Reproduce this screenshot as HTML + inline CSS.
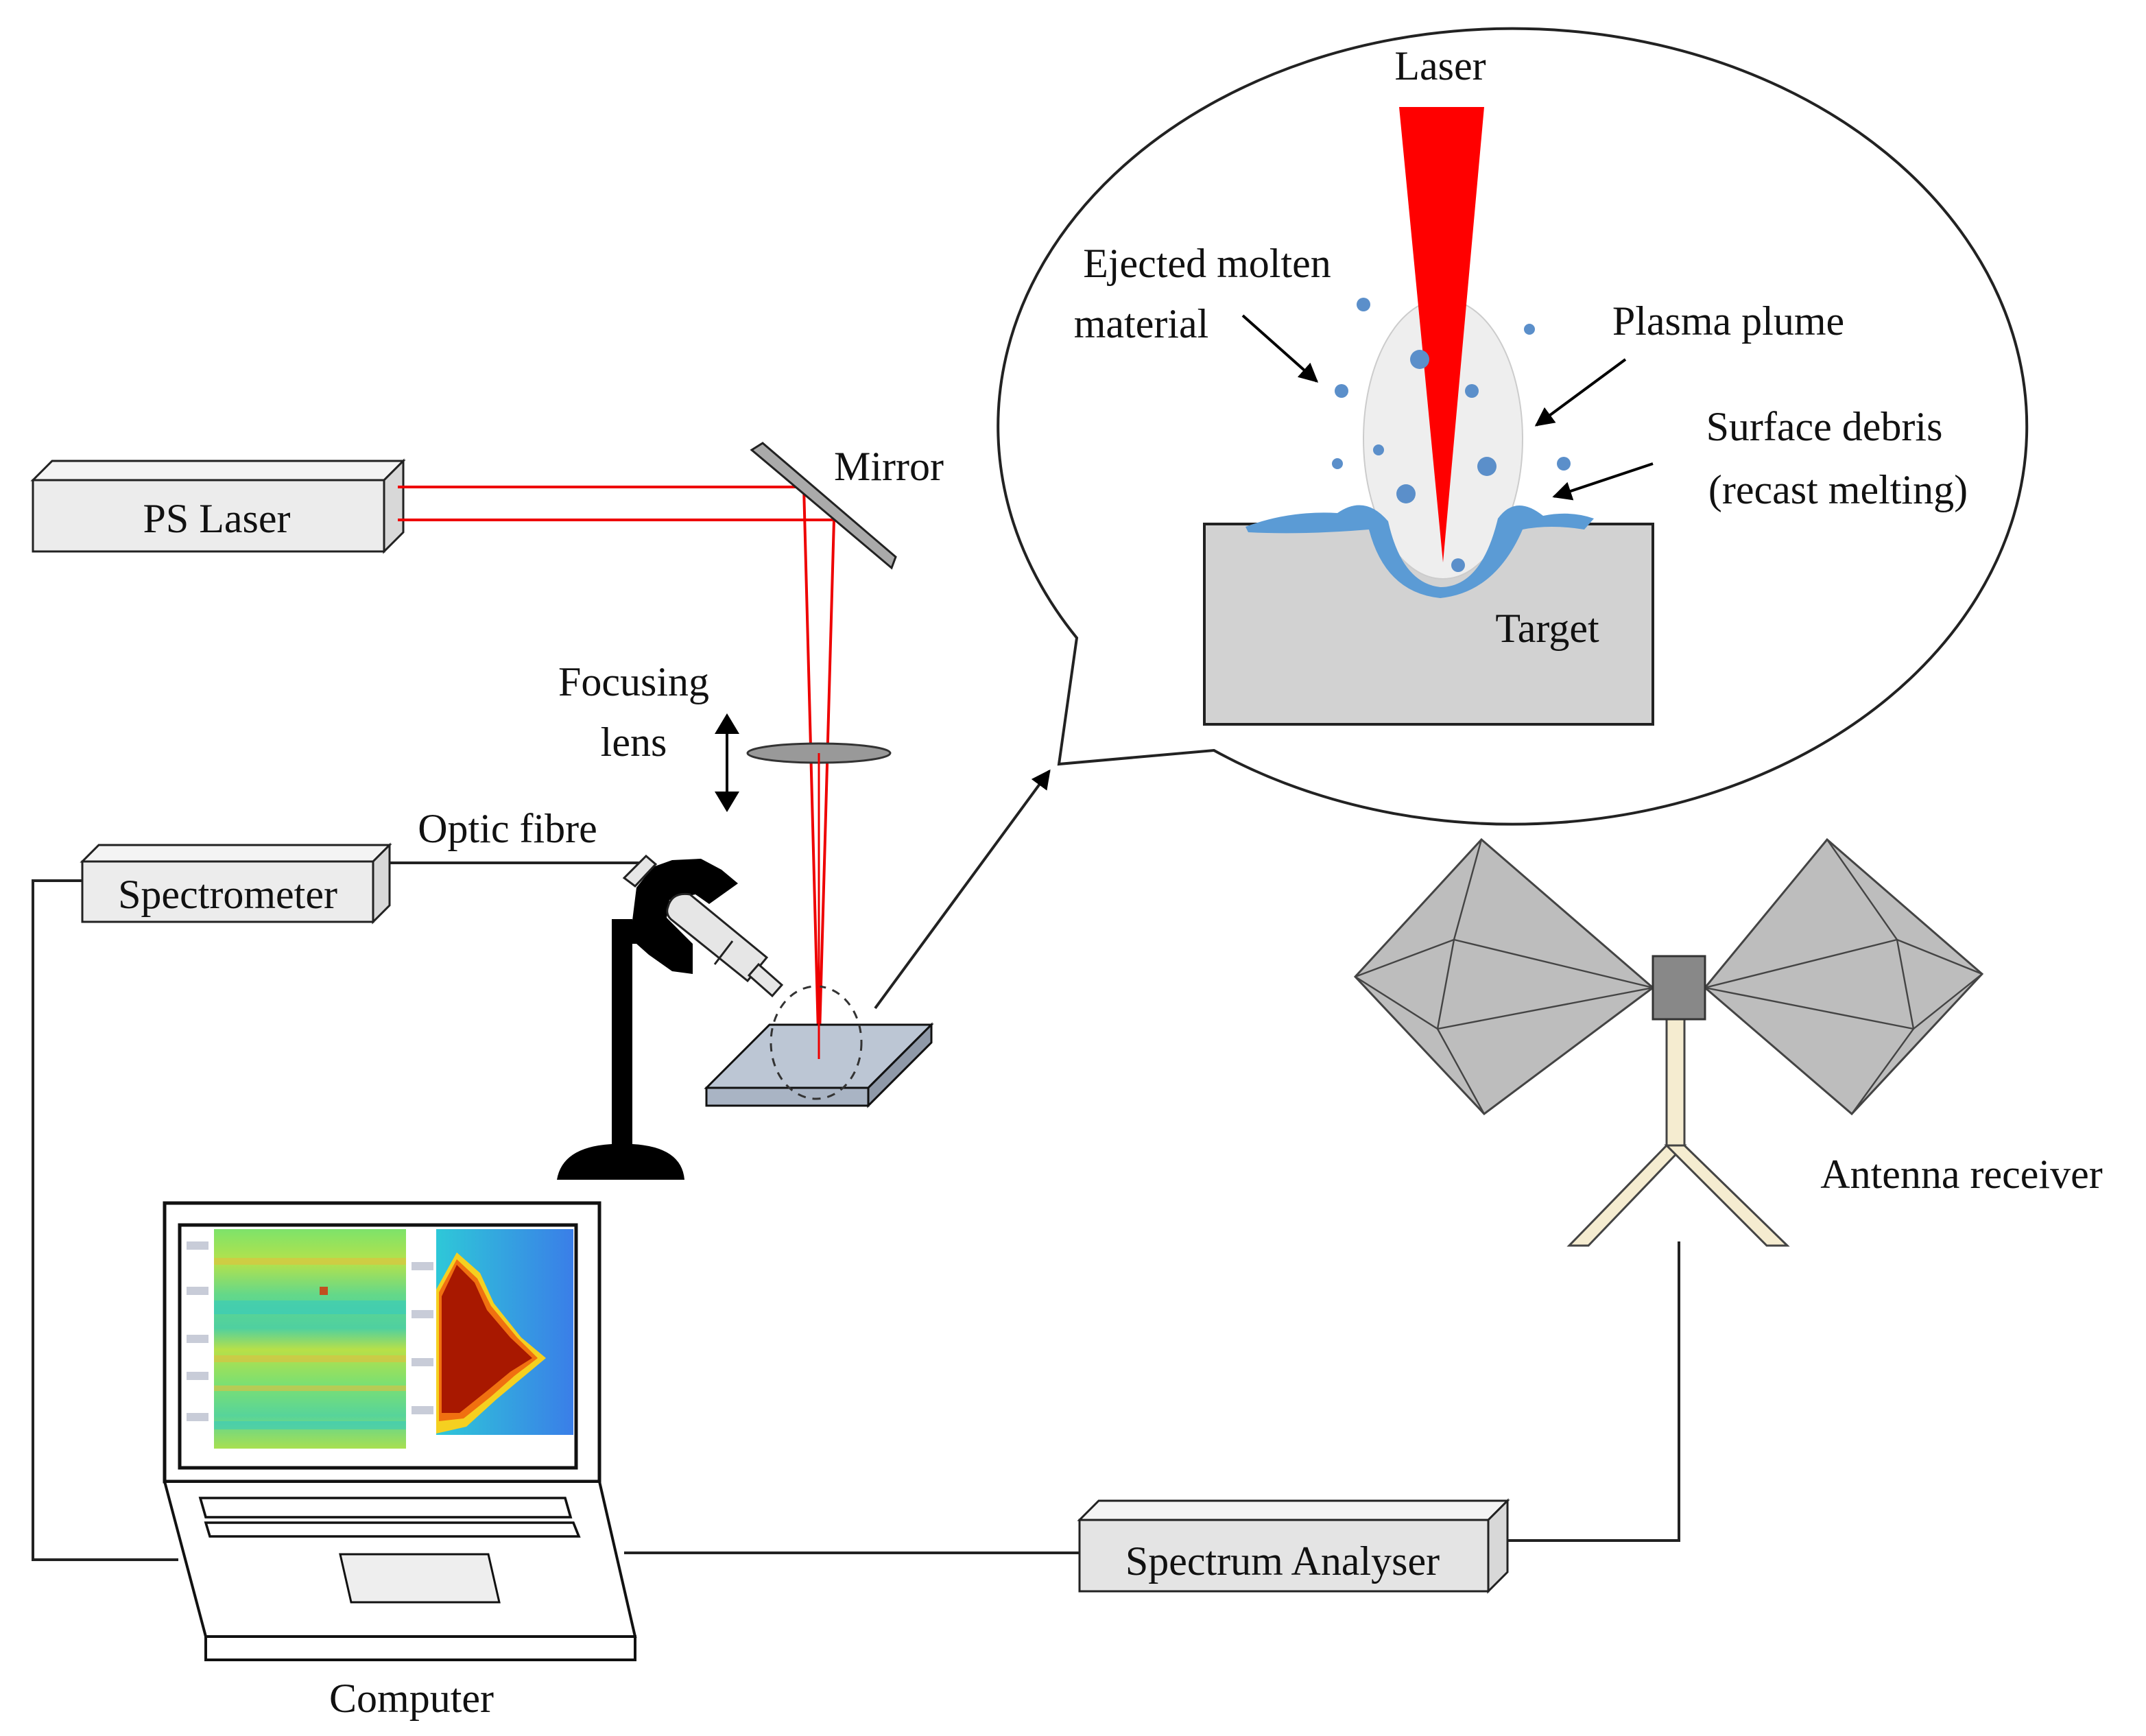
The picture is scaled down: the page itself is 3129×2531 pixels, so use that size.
<!DOCTYPE html>
<html><head><meta charset="utf-8"><style>
html,body{margin:0;padding:0;background:#fff;width:3129px;height:2531px;overflow:hidden}
svg{display:block}
text{font-family:"Liberation Serif",serif;font-size:30px;fill:#111}
</style></head><body>
<svg width="3129" height="2531" viewBox="0 0 1564.5 1265.5" xmlns="http://www.w3.org/2000/svg">
<defs>
<linearGradient id="hm" x1="0" y1="0" x2="0" y2="1">
<stop offset="0" stop-color="#7de36a"/><stop offset=".15" stop-color="#b6e24a"/><stop offset=".3" stop-color="#63d88a"/><stop offset=".45" stop-color="#4fd0a0"/><stop offset=".55" stop-color="#b8e048"/><stop offset=".7" stop-color="#7ee070"/><stop offset=".85" stop-color="#57d49a"/><stop offset="1" stop-color="#a8e050"/></linearGradient>
<linearGradient id="bl" x1="0" y1="0" x2="1" y2="0"><stop offset="0" stop-color="#2ec8d8"/><stop offset="1" stop-color="#3a7ee8"/></linearGradient>
<marker id="ah" viewBox="0 0 10 10" refX="9" refY="5" markerWidth="7" markerHeight="7" orient="auto"><path d="M0,0 L10,5 L0,10z" fill="#000"/></marker>
</defs>

<!-- connector lines -->
<polyline points="60,642 24,642 24,1137 130,1137" fill="none" stroke="#222" stroke-width="2"/>
<line x1="284" y1="629" x2="466" y2="629" stroke="#222" stroke-width="2"/>
<line x1="455" y1="1132" x2="787" y2="1132" stroke="#222" stroke-width="2"/>
<polyline points="1224,905 1224,1123 1098,1123" fill="none" stroke="#222" stroke-width="2"/>

<!-- PS Laser -->
<polygon points="24,350 38,336 294,336 280,350" fill="#f4f4f4" stroke="#222" stroke-width="1.5"/>
<polygon points="280,350 294,336 294,388 280,402" fill="#d8d8d8" stroke="#222" stroke-width="1.5"/>
<rect x="24" y="350" width="256" height="52" fill="#ececec" stroke="#222" stroke-width="1.5"/>
<text x="158" y="388" text-anchor="middle">PS Laser</text>

<!-- beams -->
<g stroke="#e00" stroke-width="2" fill="none">
<polyline points="290,355 586,355 597,772"/>
<polyline points="290,379 608,379 597,772"/>
</g>

<!-- mirror -->
<polygon points="548,328 556,323 653,406 650,414" fill="#aaa" stroke="#222" stroke-width="1.5"/>
<text x="608" y="350">Mirror</text>

<!-- lens -->
<ellipse cx="597" cy="549" rx="52" ry="7" fill="#999" stroke="#333" stroke-width="1.5"/>
<text x="462" y="507" text-anchor="middle">Focusing</text>
<text x="462" y="551" text-anchor="middle">lens</text>
<line x1="530" y1="530" x2="530" y2="582" stroke="#000" stroke-width="2"/>
<polygon points="530,520 521,535 539,535" fill="#000"/><polygon points="530,592 521,577 539,577" fill="#000"/>

<!-- spectrometer -->
<polygon points="60,628 72,616 284,616 272,628" fill="#f4f4f4" stroke="#222" stroke-width="1.5"/>
<polygon points="272,628 284,616 284,660 272,672" fill="#d8d8d8" stroke="#222" stroke-width="1.5"/>
<rect x="60" y="628" width="212" height="44" fill="#ececec" stroke="#222" stroke-width="1.5"/>
<text x="166" y="662" text-anchor="middle">Spectrometer</text>
<text x="370" y="614" text-anchor="middle">Optic fibre</text>

<!-- stand -->
<path d="M406,860 Q410,836 446,834 L446,670 L461,670 L461,834 Q497,836 499,860 Z" fill="#000"/>
<polygon points="461,671 464,647 476,632 490,627 511,626 526,634 538,644 517,659 507,652 488,656 486,669 505,688 505,710 490,708 473,696 464,688 461,688" fill="#000"/>
<polygon points="455,640 471,624 478,630 463,646" fill="#e6e6e6" stroke="#222" stroke-width="1.5"/>
<path d="M487,661 Q490,650 503,652 L559,698 L545,715 L489,670 Q485,666 487,661 Z" fill="#e6e6e6" stroke="#222" stroke-width="1.5"/>
<line x1="534" y1="686" x2="521" y2="703" stroke="#222" stroke-width="1.5"/>
<polygon points="553,703 570,718 563,726 546,711" fill="#e6e6e6" stroke="#222" stroke-width="1.5"/>

<!-- sample -->
<polygon points="515,793 561,747 679,747 633,793" fill="#bcc6d4" stroke="#111" stroke-width="1.5"/>
<polygon points="515,793 633,793 633,806 515,806" fill="#a9b4c4" stroke="#111" stroke-width="1.5"/>
<polygon points="633,793 679,747 679,760 633,806" fill="#8f99a8" stroke="#111" stroke-width="1.5"/>
<ellipse cx="595" cy="760" rx="33" ry="41" fill="none" stroke="#333" stroke-width="1.5" stroke-dasharray="6,5"/>
<line x1="597" y1="549" x2="597" y2="772" stroke="#e00" stroke-width="1.5"/>
<line x1="638" y1="735" x2="765" y2="562" stroke="#222" stroke-width="2" marker-end="url(#ah)"/>

<!-- callout -->
<path d="M785,465 A375,290 0 1,1 885,547 L772,557 Z" fill="#fff" stroke="#222" stroke-width="2"/>
<rect x="878" y="382" width="327" height="146" fill="#d2d2d2" stroke="#222" stroke-width="2"/>
<text x="1128" y="468" text-anchor="middle">Target</text>
<ellipse cx="1052" cy="320" rx="58" ry="102" fill="#eeeeee" stroke="#ccc"/>
<path d="M908,384 Q940,372 975,374 Q995,360 1012,380 Q1022,425 1050,428 Q1080,428 1092,378 Q1105,360 1125,376 Q1145,372 1162,378 L1155,386 Q1130,382 1110,386 Q1090,432 1050,436 Q1010,432 998,386 Q950,390 910,388 Z" fill="#5b9bd5"/>
<polygon points="1020,78 1082,78 1052,410" fill="#ff0000"/>
<g fill="#5b8fca">
<circle cx="994" cy="222" r="5"/><circle cx="1115" cy="240" r="4"/><circle cx="1035" cy="262" r="7"/>
<circle cx="1073" cy="285" r="5"/><circle cx="978" cy="285" r="5"/><circle cx="1005" cy="328" r="4"/>
<circle cx="1084" cy="340" r="7"/><circle cx="1140" cy="338" r="5"/><circle cx="975" cy="338" r="4"/>
<circle cx="1025" cy="360" r="7"/><circle cx="1063" cy="412" r="5"/>
</g>
<text x="1050" y="58" text-anchor="middle">Laser</text>
<text x="880" y="202" text-anchor="middle">Ejected molten</text>
<text x="832" y="246" text-anchor="middle">material</text>
<text x="1260" y="244" text-anchor="middle">Plasma plume</text>
<text x="1330" y="321" text-anchor="middle">Surface debris</text>
<text x="1340" y="367" text-anchor="middle">(recast melting)</text>
<g stroke="#000" stroke-width="2" fill="none">
<line x1="906" y1="230" x2="960" y2="278" marker-end="url(#ah)"/>
<line x1="1185" y1="262" x2="1120" y2="310" marker-end="url(#ah)"/>
<line x1="1205" y1="338" x2="1133" y2="362" marker-end="url(#ah)"/>
</g>

<!-- antenna -->
<g stroke="#444" stroke-width="1.5" fill="#bdbdbd">
<polygon points="1080,612 988,712 1082,812 1205,720"/>
<polygon points="1332,612 1445,710 1350,812 1243,720"/>
</g>
<g stroke="#444" stroke-width="1.2" fill="none">
<polyline points="1080,612 1060,685 988,712"/><line x1="1060" y1="685" x2="1205" y2="720"/>
<polyline points="1060,685 1048,750 1082,812"/><line x1="988" y1="712" x2="1048" y2="750"/><line x1="1048" y1="750" x2="1205" y2="720"/>
<polyline points="1332,612 1383,685 1445,710"/><line x1="1383" y1="685" x2="1243" y2="720"/>
<polyline points="1383,685 1395,750 1350,812"/><line x1="1445" y1="710" x2="1395" y2="750"/><line x1="1395" y1="750" x2="1243" y2="720"/>
</g>
<g fill="#f5ecd0" stroke="#444" stroke-width="1.5">
<rect x="1215" y="743" width="13" height="92"/>
<polygon points="1215,835 1228,835 1158,908 1144,908"/>
<polygon points="1215,835 1228,835 1303,908 1288,908"/>
</g>
<rect x="1205" y="697" width="38" height="46" fill="#888" stroke="#333" stroke-width="1.5"/>
<text x="1430" y="866" text-anchor="middle">Antenna receiver</text>

<!-- spectrum analyser -->
<polygon points="787,1108 801,1094 1099,1094 1085,1108" fill="#f4f4f4" stroke="#222" stroke-width="1.5"/>
<polygon points="1085,1108 1099,1094 1099,1146 1085,1160" fill="#d8d8d8" stroke="#222" stroke-width="1.5"/>
<rect x="787" y="1108" width="298" height="52" fill="#e4e4e4" stroke="#222" stroke-width="1.5"/>
<text x="935" y="1148" text-anchor="middle">Spectrum Analyser</text>

<!-- laptop -->
<rect x="120" y="877" width="317" height="203" fill="#fff" stroke="#111" stroke-width="2.5"/>
<rect x="131" y="893" width="289" height="177" fill="#fff" stroke="#111" stroke-width="2.5"/>
<rect x="156" y="896" width="140" height="160" fill="url(#hm)"/>
<g fill="#e0c040" opacity=".6"><rect x="156" y="917" width="140" height="5"/><rect x="156" y="988" width="140" height="5"/><rect x="156" y="1010" width="140" height="4"/></g>
<g fill="#2ec8c8" opacity=".5"><rect x="156" y="948" width="140" height="10"/><rect x="156" y="1036" width="140" height="6"/></g>
<rect x="233" y="938" width="6" height="6" fill="#c05020"/>
<g fill="#c8ccd8"><rect x="136" y="905" width="16" height="6"/><rect x="136" y="938" width="16" height="6"/><rect x="136" y="973" width="16" height="6"/><rect x="136" y="1000" width="16" height="6"/><rect x="136" y="1030" width="16" height="6"/><rect x="300" y="920" width="16" height="6"/><rect x="300" y="955" width="16" height="6"/><rect x="300" y="990" width="16" height="6"/><rect x="300" y="1025" width="16" height="6"/></g>
<rect x="318" y="896" width="100" height="150" fill="url(#bl)"/>
<path d="M318,940 L333,913 L350,928 L360,950 L380,975 L398,990 L380,1005 L362,1020 L340,1040 L318,1045 Z" fill="#f5d020"/>
<path d="M320,942 L333,918 L348,932 L358,952 L377,975 L392,990 L375,1003 L358,1018 L338,1034 L320,1036 Z" fill="#f07010"/>
<path d="M322,945 L333,922 L346,935 L355,955 L372,975 L388,990 L372,1000 L355,1014 L335,1030 L322,1030 Z" fill="#a81800"/>
<polygon points="120,1080 437,1080 463,1193 150,1193" fill="#fff" stroke="#111" stroke-width="2"/>
<rect x="150" y="1193" width="313" height="17" fill="#fff" stroke="#111" stroke-width="2"/>
<polygon points="146,1092 412,1092 416,1106 150,1106" fill="#fff" stroke="#111" stroke-width="1.8"/>
<polygon points="150,1110 418,1110 422,1120 153,1120" fill="#fff" stroke="#111" stroke-width="1.8"/>
<polygon points="248,1133 356,1133 364,1168 256,1168" fill="#eee" stroke="#111" stroke-width="1.5"/>
<text x="300" y="1248" text-anchor="middle">Computer</text>
</svg>
</body></html>
